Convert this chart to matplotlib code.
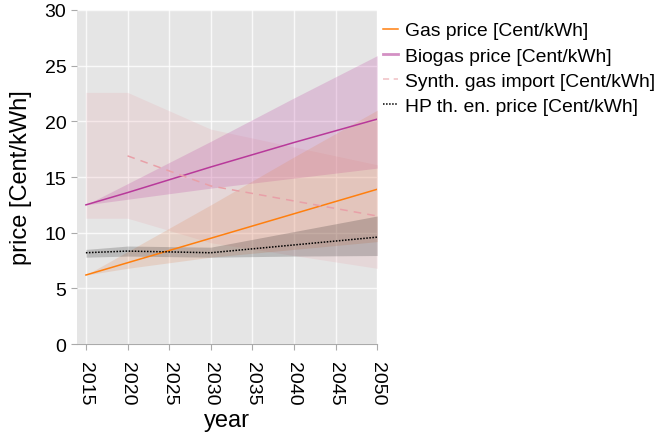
import matplotlib
matplotlib.use("Agg")
import matplotlib.pyplot as plt
from matplotlib.lines import Line2D

plt.rcParams['font.family'] = ['Liberation Sans', 'DejaVu Sans']

years = [2015, 2020, 2030, 2040, 2050]

gas = [6.2, 7.3, 9.5, 11.7, 13.9]
gas_lo = [6.2, 6.8, 7.8, 8.5, 9.2]
gas_hi = [6.2, 8.3, 12.5, 16.8, 21.0]

biogas = [12.5, 13.6, 15.9, 18.1, 20.2]
bio_lo = [12.5, 13.0, 14.0, 14.9, 15.8]
bio_hi = [12.5, 14.4, 18.2, 22.1, 25.9]

synth_years = [2020, 2030, 2040, 2050]
synth = [16.9, 14.2, 12.85, 11.5]
synth_lo = [11.3, 11.3, 9.1, 7.95, 6.8]
synth_hi = [22.6, 22.6, 19.3, 17.7, 16.1]

hp = [8.2, 8.35, 8.2, 8.9, 9.6]
hp_lo = [7.8, 7.9, 7.8, 7.9, 7.95]
hp_hi = [8.5, 8.8, 8.7, 10.1, 11.5]

labels = ["Gas price [Cent/kWh]", "Biogas price [Cent/kWh]",
          "Synth. gas import [Cent/kWh]", "HP th. en. price [Cent/kWh]"]

c_gas = "#ff7f0e"
c_bio = "#b8399a"
c_syn = "#e8a0a8"
c_hp = "black"

fig = plt.figure(figsize=(6.56, 4.39), dpi=100)
ax = fig.add_axes([0.117, 0.214, 0.458, 0.761])
ax.set_facecolor("#e5e5e5")

# bands
ax.fill_between(years, synth_lo, synth_hi, color="#e8a0a8", alpha=0.2, lw=0)
ax.fill_between(years, bio_lo, bio_hi, color="#c050a8", alpha=0.25, lw=0)
ax.fill_between(years, gas_lo, gas_hi, color="#e0885a", alpha=0.22, lw=0)
ax.fill_between(years, hp_lo, hp_hi, color="black", alpha=0.18, lw=0)

ax.plot(years, gas, color=c_gas, lw=1.1)
ax.plot(years, biogas, color=c_bio, lw=1.1)
ax.plot(synth_years, synth, color=c_syn, lw=1.1, ls=(0, (5, 4)))
ax.plot(years, hp, color=c_hp, lw=1.1, ls=(0, (1, 1)))

ax.set_xlim(2013.9, 2050)
ax.set_ylim(0, 30)
ax.set_xticks(range(2015, 2051, 5))
ax.set_yticks(range(0, 31, 5))
ax.grid(True, color="white", lw=1, alpha=0.8)
ax.set_axisbelow(True)
for s in ["top", "right", "left"]:
    ax.spines[s].set_visible(False)
ax.spines["bottom"].set_color("#aaaaaa")
ax.tick_params(axis="both", colors="#aaaaaa", labelcolor="black", labelsize=14, length=4)
ax.tick_params(axis="x", labelrotation=270, pad=8)
ax.set_xlabel("year", fontsize=17, labelpad=3)
ax.set_ylabel("price [Cent/kWh]", fontsize=17, labelpad=9)

handles = [
    Line2D([], [], color=c_gas, lw=1.1),
    Line2D([], [], color="#d490c4", lw=2),
    Line2D([], [], color="#f0c0c4", lw=1.1, ls=(0, (4, 3))),
    Line2D([], [], color=c_hp, lw=1.1, ls=(0, (1, 1))),
]
fig.legend(handles, labels, loc="upper left", bbox_to_anchor=(0.584, 0.948),
           frameon=False, fontsize=13.9, handlelength=0.78, handletextpad=0.36,
           labelspacing=0.4, borderaxespad=0, borderpad=0)

fig.savefig("out.png", dpi=100)
